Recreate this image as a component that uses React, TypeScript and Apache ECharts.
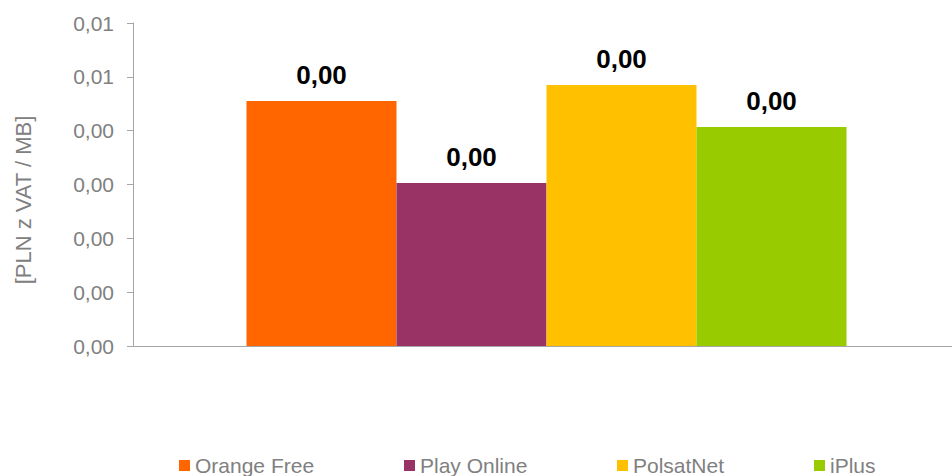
import React, { useEffect, useRef } from "react";
import * as echarts from "echarts";

const categories = [""];
const seriesNames = ["Orange Free", "Play Online", "PolsatNet", "iPlus"];
const seriesValues = [0.00455, 0.00303, 0.00485, 0.00407];
const seriesColors = ["#FF6600", "#993366", "#FFC000", "#99CC00"];
const legendLeft = [179, 404, 617, 814];
const yAxisTitle = "[PLN z VAT / MB]";

const fmt = (v: number) => (Math.round(v * 100) / 100).toFixed(2).replace(".", ",");

export default function App() {
  const ref = useRef<HTMLDivElement>(null);
  useEffect(() => {
    document.body.style.margin = "0";
    const chart = echarts.init(ref.current!, null, { renderer: "svg" });
    const font = "'Liberation Sans', Arial, sans-serif";
    chart.setOption({
      animation: false,
      grid: {
        left: 133,
        top: 23,
        height: 323,
        width: 827,
        containLabel: false,
        outerBoundsMode: "none",
      },
      legend: seriesNames.map((n, i) => ({
        data: [n],
        left: legendLeft[i],
        top: 455,
        padding: 0,
        itemGap: 0,
        icon: "rect",
        itemWidth: 11,
        itemHeight: 11,
        textStyle: { color: "#808080", fontSize: 21, fontFamily: font, lineHeight: 21 },
      })),
      xAxis: {
        type: "category",
        data: categories,
        axisLine: { lineStyle: { color: "#a6a6a6", width: 1 } },
        axisTick: { show: false },
        axisLabel: { show: false },
      },
      yAxis: {
        type: "value",
        min: 0,
        max: 0.006,
        interval: 0.001,
        splitLine: { show: false },
        axisLine: { show: true, lineStyle: { color: "#a6a6a6", width: 1 } },
        axisTick: { show: true, length: 6, lineStyle: { color: "#a6a6a6" } },
        axisLabel: {
          color: "#808080",
          fontSize: 21,
          fontFamily: font,
          margin: 19,
          formatter: (v: number) => fmt(v),
        },
      },
      graphic: [
        {
          type: "text",
          x: 23,
          y: 200,
          rotation: Math.PI / 2,
          style: {
            text: yAxisTitle,
            fill: "#808080",
            fontSize: 22,
            fontFamily: font,
            align: "center",
            verticalAlign: "middle",
          },
        },
      ],
      series: seriesNames.map((n, i) => ({
        name: n,
        type: "bar",
        data: [seriesValues[i]],
        barWidth: 150,
        barGap: "0%",
        itemStyle: { color: seriesColors[i] },
        label: {
          show: true,
          position: "top",
          distance: 13,
          color: "#000000",
          fontWeight: "bold",
          fontSize: 26,
          fontFamily: font,
          formatter: (p: any) => fmt(p.value),
        },
      })),
    });
    return () => chart.dispose();
  }, []);
  return <div ref={ref} style={{ width: 952, height: 476 }} />;
}
